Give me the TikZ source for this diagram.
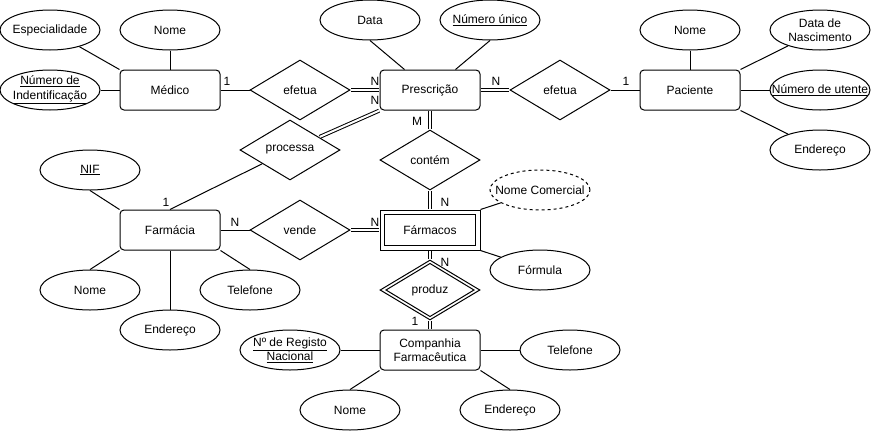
\documentclass[tikz,border=0pt]{standalone}
\usepackage{fontspec}
\setmainfont{Liberation Sans}
\usetikzlibrary{shapes.geometric, positioning}

\begin{document}
\begin{tikzpicture}[x=1pt, y=-1pt, line width=1pt, font=\fontsize{12}{14.5}\selectfont,
    ent/.style={rectangle, draw, rounded corners=4pt, minimum width=100pt, minimum height=40pt, inner sep=0pt, align=center},
    weakent/.style={rectangle, draw, minimum width=100pt, minimum height=40pt, inner sep=0pt},
    rel/.style={diamond, draw, minimum width=100pt, minimum height=60pt, inner sep=0pt, aspect=1.667},
    attr/.style={ellipse, draw, minimum width=100pt, minimum height=40pt, inner xsep=-15pt, inner ysep=0pt, align=center},
    card/.style={inner sep=0pt},
    dbl/.style={double, double distance=2pt, shorten <=0.5pt, shorten >=0.5pt}]
    \useasboundingbox (0,0) rectangle (871,432);

    % entidades
    \node[ent] (medico) at (170,90) {Médico};
    \node[ent] (presc) at (430,90) {Prescrição};
    \node[ent] (pac) at (690,90) {Paciente};
    \node[ent] (farmacia) at (170,230) {Farmácia};
    \node[weakent] (farmacos) at (430,230) {Fármacos};
    \draw ([shift={(5pt,-5pt)}]farmacos.north west) rectangle ([shift={(-5pt,5pt)}]farmacos.south east);
    \node[ent] (comp) at (430,350) {Companhia\\Farmacêutica};

    % relacionamentos
    \node[rel] (efetua1) at (300,90) {efetua};
    \node[rel] (efetua2) at (560,90) {efetua};
    \node[rel] (processa) at (290,150) {processa};
    \node[rel] (contem) at (430,160) {contém};
    \node[rel] (vende) at (300,230) {vende};
    \node[rel] (produz) at (430,290) {produz};
    \draw ([xshift=6.5pt]produz.west) -- ([yshift=-4pt]produz.north) -- ([xshift=-6.5pt]produz.east) -- ([yshift=4pt]produz.south) -- cycle;

    % atributos
    \node[attr] (esp) at (50,30) {Especialidade};
    \node[attr] (nomemed) at (170,30) {Nome};
    \node[attr] (numid) at (50,90) {\underline{Número de}\\\underline{Indentificação}};
    \node[attr] (data) at (370,20) {Data};
    \node[attr] (numunico) at (490,20) {\underline{Número único}};
    \node[attr] (nomepac) at (690,30) {Nome};
    \node[attr] (datanasc) at (820,30) {Data de\\Nascimento};
    \node[attr] (numutente) at (820,90) {\underline{Número de utente}};
    \node[attr] (endpac) at (820,150) {Endereço};
    \node[attr] (nif) at (90,170) {\underline{NIF}};
    \node[attr] (nomefarm) at (90,290) {Nome};
    \node[attr] (telfarm) at (250,290) {Telefone};
    \node[attr] (endfarm) at (170,330) {Endereço};
    \node[attr, dash pattern=on 3pt off 3pt] (nomecom) at (540,190) {Nome Comercial};
    \node[attr] (formula) at (540,270) {Fórmula};
    \node[attr] (registo) at (290,350) {\underline{Nº de Registo}\\\underline{Nacional}};
    \node[attr] (telcomp) at (570,350) {Telefone};
    \node[attr] (nomecomp) at (350,410) {Nome};
    \node[attr] (endcomp) at (510,410) {Endereço};

    % ligacoes
    \draw (medico) -- (efetua1);
    \draw[dbl] (efetua1) -- (presc);
    \draw[dbl] (presc) -- (efetua2);
    \draw (efetua2) -- (pac);
    \draw[dbl] (presc.south west) -- (processa);
    \draw (processa) -- (farmacia.north);
    \draw[dbl] (presc) -- (contem);
    \draw[dbl] (contem) -- (farmacos);
    \draw (farmacia) -- (vende);
    \draw[dbl] (vende) -- (farmacos);
    \draw[dbl] (farmacos) -- (produz);
    \draw[dbl] (produz) -- (comp);

    \draw (esp) -- (medico.north west);
    \draw (nomemed) -- (medico);
    \draw (numid) -- (medico);
    \draw (data.south) -- ([xshift=25pt]presc.north west);
    \draw (numunico.south) -- ([xshift=-25pt]presc.north east);
    \draw (nomepac) -- (pac);
    \draw (datanasc) -- (pac.north east);
    \draw (numutente) -- (pac);
    \draw (endpac) -- (pac.south east);
    \draw (nif.south) -- (farmacia.north west);
    \draw (nomefarm.north) -- (farmacia.south west);
    \draw (endfarm) -- (farmacia);
    \draw (telfarm.north) -- (farmacia.south east);
    \draw (nomecom) -- (farmacos.north east);
    \draw (formula) -- (farmacos.south east);
    \draw (registo) -- (comp);
    \draw (telcomp) -- (comp);
    \draw (nomecomp.north) -- (comp.south west);
    \draw (endcomp.north) -- (comp.south east);

    % cardinalidades
    \node[card] (c1) at (227,81) {1};
    \node[card] (c2) at (375,81) {N};
    \node[card] (c3) at (375,100) {N};
    \node[card] (c4) at (496,81) {N};
    \node[card] (c5) at (626,81) {1};
    \node[card] (c6) at (417,121) {M};
    \node[card] (c7) at (166,202) {1};
    \node[card] (c8) at (235,222) {N};
    \node[card] (c9) at (445,202) {N};
    \node[card] (c10) at (375,222) {N};
    \node[card] (c11) at (445,262) {N};
    \node[card] (c12) at (415,321) {1};
\end{tikzpicture}
\end{document}
